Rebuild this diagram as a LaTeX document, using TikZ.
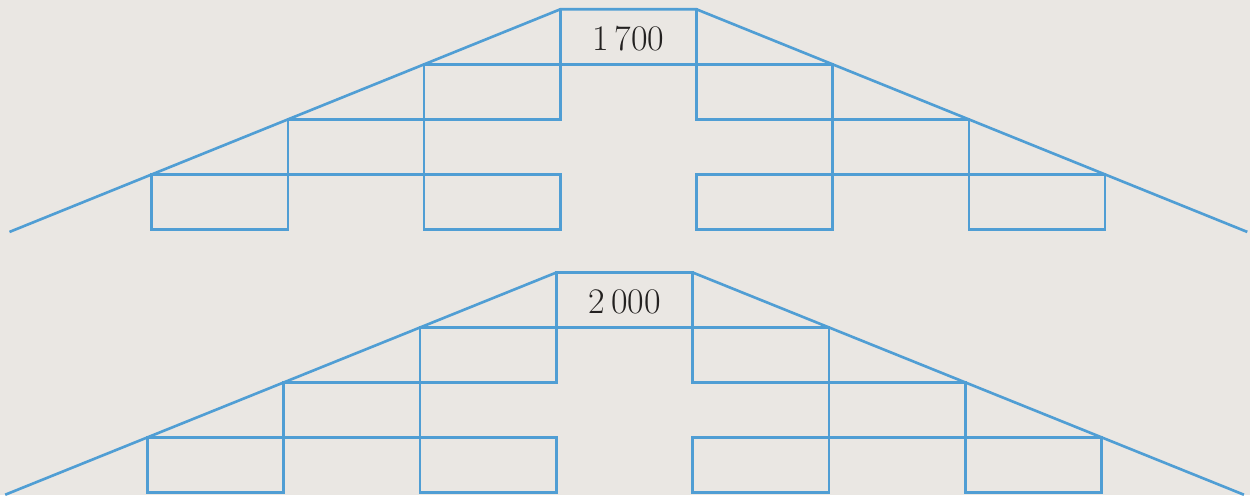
\documentclass[tikz,border=0pt]{standalone}
\usetikzlibrary{calc}
\definecolor{paper}{RGB}{234,231,227}
\definecolor{lineblue}{RGB}{80,158,212}
\definecolor{ink}{RGB}{35,33,32}
\tikzset{
  brick/.style={draw=lineblue,line width=1.5pt,line cap=rect,line join=miter},
  numlabel/.style={text=ink,font=\fontsize{20.5}{23}\selectfont,inner sep=0pt}
}
% #1 prefix, #2 x0, #3 dx, #4 y0, #5 dy, #6 label
\newcommand\brickfig[6]{%
  \foreach \i in {0,...,7}{\foreach \j in {0,...,4}{%
    \coordinate (#1-\i-\j) at ({#2+\i*#3},{#4+\j*#5});}}
  \coordinate (#1-L) at ($(#1-0-3)!-0.345!(#1-3-0)$);
  \coordinate (#1-R) at ($(#1-7-3)!-0.345!(#1-4-0)$);
  \draw[brick] (#1-L) -- (#1-3-0) -- (#1-4-0) -- (#1-R);
  \draw[brick] (#1-3-0) -- (#1-3-2) (#1-4-0) -- (#1-4-2);
  \draw[brick] (#1-2-1) -- (#1-5-1);
  \draw[brick] (#1-1-2) -- (#1-3-2) (#1-4-2) -- (#1-6-2);
  \draw[brick] (#1-0-3) -- (#1-3-3) (#1-4-3) -- (#1-7-3);
  \draw[brick] (#1-0-4) -- (#1-1-4) (#1-2-4) -- (#1-3-4) (#1-4-4) -- (#1-5-4) (#1-6-4) -- (#1-7-4);
  \draw[brick] (#1-0-3) -- (#1-0-4) (#1-1-2) -- (#1-1-4) (#1-2-1) -- (#1-2-4)
               (#1-3-3) -- (#1-3-4) (#1-4-3) -- (#1-4-4) (#1-5-1) -- (#1-5-4)
               (#1-6-2) -- (#1-6-4) (#1-7-3) -- (#1-7-4);
  \node[numlabel,anchor=base] (#1-lab) at ({#2+3.5*#3},{#4+0.74*#5}) {#6};
}
\begin{document}
\begin{tikzpicture}[x=0.02cm,y=-0.02cm]
\useasboundingbox (0,0) rectangle (1250,495);
\fill[paper] (0,0) rectangle (1250,495);
\brickfig{T}{151.7}{136.2}{9.3}{55.05}{1\,700}
\brickfig{B}{147.5}{136.3}{272.5}{54.95}{2\,000}
\end{tikzpicture}
\end{document}
